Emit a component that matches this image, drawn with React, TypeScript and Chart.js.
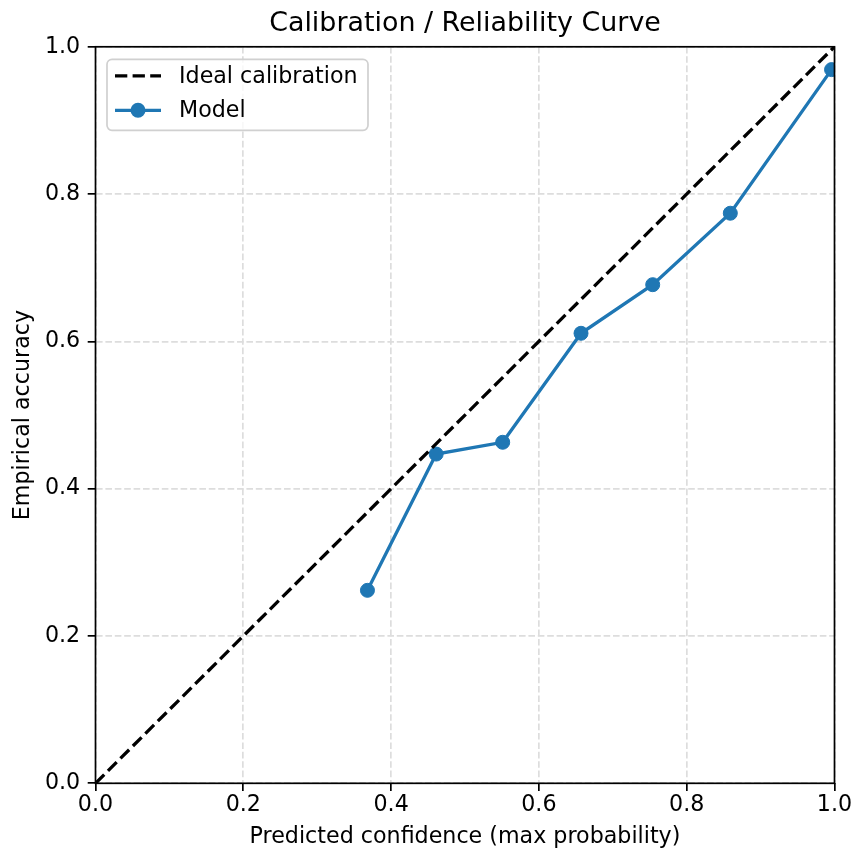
import { useEffect, useRef } from "react";
import { Chart, registerables } from "chart.js";

Chart.register(...registerables);

const FONT = "DejaVu Sans";

// Data
const confidence = [0.368, 0.461, 0.551, 0.657, 0.754, 0.859, 0.996];
const accuracy = [0.262, 0.447, 0.463, 0.611, 0.677, 0.774, 0.969];
const idealX = [0, 1];
const idealY = [0, 1];
const tickValues = [0, 0.2, 0.4, 0.6, 0.8, 1.0];
const tickLabels = ["0.0", "0.2", "0.4", "0.6", "0.8", "1.0"];

const BLUE = "#1f77b4";
const FS = 22.2;

export default function App() {
  const ref = useRef<HTMLCanvasElement>(null);

  useEffect(() => {
    const titleCenterPlugin = {
      id: "titleCenter",
      afterLayout(chart: any) {
        const tb = chart.titleBlock;
        if (tb) {
          tb.left = chart.chartArea.left;
          tb.right = chart.chartArea.right;
          tb.width = tb.right - tb.left;
        }
      },
    };

    const framePlugin = {
      id: "frame",
      afterDatasetsDraw(chart: any) {
        const { ctx, chartArea: a } = chart;
        ctx.save();
        ctx.strokeStyle = "#000";
        ctx.lineWidth = 1.7;
        ctx.setLineDash([]);
        ctx.strokeRect(a.left, a.top, a.right - a.left, a.bottom - a.top);
        ctx.restore();
      },
    };

    const legendPlugin = {
      id: "boxLegend",
      afterDatasetsDraw(chart: any) {
        const { ctx, chartArea: a } = chart;
        const ds = chart.data.datasets;
        const bx = a.left + 11.5;
        const by = a.top + 12.5;
        const bw = 261;
        const bh = 71;
        ctx.save();
        ctx.beginPath();
        ctx.roundRect(bx, by, bw, bh, 5);
        ctx.fillStyle = "rgba(255,255,255,0.8)";
        ctx.fill();
        ctx.strokeStyle = "#d0d0d0";
        ctx.lineWidth = 1.7;
        ctx.stroke();

        const lx0 = bx + 8;
        const lx1 = bx + 54;
        const tx = bx + 72;
        const rows = [by + 16.5, by + 51];
        ctx.font = `${FS}px "${FONT}"`;
        ctx.textBaseline = "middle";
        ctx.textAlign = "left";
        ds.forEach((d: any, i: number) => {
          const y = rows[i];
          ctx.beginPath();
          ctx.setLineDash(d.borderDash || []);
          ctx.strokeStyle = d.borderColor;
          ctx.lineWidth = d.borderWidth;
          ctx.moveTo(lx0, y);
          ctx.lineTo(lx1, y);
          ctx.stroke();
          ctx.setLineDash([]);
          if (d.pointRadius > 0) {
            ctx.beginPath();
            ctx.arc((lx0 + lx1) / 2, y, d.pointRadius + 0.5, 0, Math.PI * 2);
            ctx.fillStyle = d.pointBackgroundColor;
            ctx.fill();
          }
          ctx.fillStyle = "#000";
          ctx.fillText(d.label, tx, y + 1);
        });
        ctx.restore();
      },
    };

    const setTicks = (scale: any) => {
      scale.ticks = tickValues.map((v) => ({ value: v }));
    };
    const fmt = (v: any) => {
      const i = tickValues.findIndex((t) => Math.abs(t - Number(v)) < 1e-9);
      return i >= 0 ? tickLabels[i] : "";
    };

    const gridOpts = {
      color: "#dddddd",
      lineWidth: 1.7,
      drawTicks: true,
      tickLength: 7.8,
      tickColor: "#000",
      tickWidth: 1.7,
      tickBorderDash: [],
    };

    const chart = new Chart(ref.current!, {
      type: "line",
      data: {
        datasets: [
          {
            label: "Ideal calibration",
            data: idealX.map((x, i) => ({ x, y: idealY[i] })),
            borderColor: "#000",
            borderWidth: 3.3,
            borderDash: [12.3, 5.3],
            pointRadius: 0,
            pointHoverRadius: 0,
            fill: false,
            tension: 0,
            clip: 0,
          } as any,
          {
            label: "Model",
            data: confidence.map((x, i) => ({ x, y: accuracy[i] })),
            borderColor: BLUE,
            backgroundColor: BLUE,
            borderWidth: 3.3,
            pointRadius: 7,
            pointBackgroundColor: BLUE,
            pointBorderColor: BLUE,
            pointBorderWidth: 1,
            fill: false,
            tension: 0,
            clip: 0,
          } as any,
        ],
      },
      options: {
        animation: false,
        responsive: false,
        maintainAspectRatio: false,
        events: [],
        layout: { padding: { left: 0, right: 20.5, top: 0, bottom: 0 } },
        plugins: {
          legend: { display: false },
          tooltip: { enabled: false },
          title: {
            display: true,
            text: "Calibration / Reliability Curve",
            color: "#000",
            font: { family: FONT, size: 26.9, weight: "normal" },
            padding: { top: 8, bottom: 6.5 },
          },
        },
        scales: {
          x: {
            type: "linear",
            min: 0,
            max: 1,
            afterBuildTicks: setTicks,
            afterFit: (s: any) => {
              s.height = 68.7;
            },
            ticks: {
              color: "#000",
              font: { family: FONT, size: FS },
              padding: 1,
              maxRotation: 0,
              autoSkip: false,
              callback: fmt,
            },
            grid: gridOpts,
            border: { display: false, dash: [6.6, 2.8] },
            title: {
              display: true,
              text: "Predicted confidence (max probability)",
              color: "#000",
              font: { family: FONT, size: FS },
              padding: { top: 0, bottom: 1 },
            },
          },
          y: {
            type: "linear",
            min: 0,
            max: 1,
            afterBuildTicks: setTicks,
            afterFit: (s: any) => {
              s.width = 95.5;
            },
            ticks: {
              color: "#000",
              font: { family: FONT, size: FS },
              padding: 7.5,
              autoSkip: false,
              callback: fmt,
            },
            grid: gridOpts,
            border: { display: false, dash: [6.6, 2.8] },
            title: {
              display: true,
              text: "Empirical accuracy",
              color: "#000",
              font: { family: FONT, size: FS },
              padding: { top: 10, bottom: 0 },
            },
          },
        },
      } as any,
      plugins: [titleCenterPlugin, framePlugin, legendPlugin],
    });
    return () => chart.destroy();
  }, []);

  return (
    <div
      style={{
        position: "fixed",
        left: 0,
        top: 0,
        width: 855,
        height: 852,
        background: "#fff",
      }}
    >
      <canvas ref={ref} width={855} height={852} style={{ display: "block" }} />
    </div>
  );
}
